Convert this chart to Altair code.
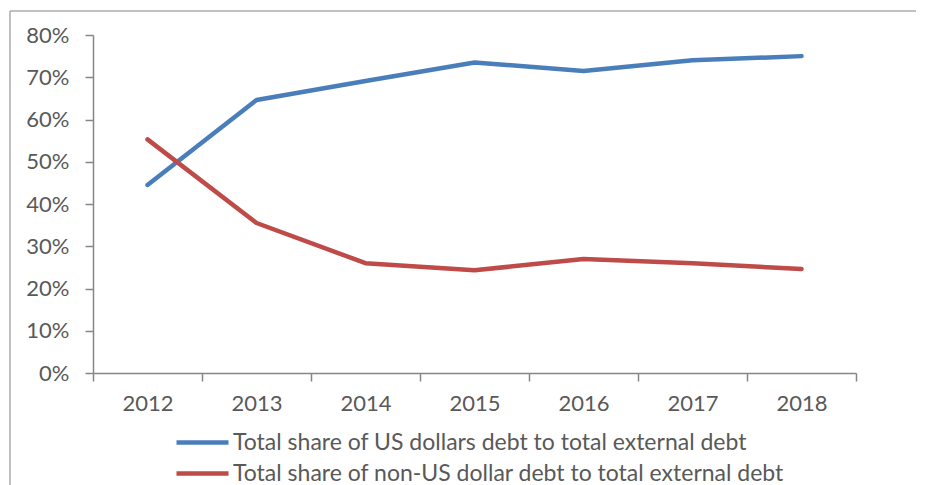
import altair as alt
import pandas as pd

years = ["2012", "2013", "2014", "2015", "2016", "2017", "2018"]
us_dollar_share = [44.5, 64.6, 69.1, 73.5, 71.5, 74.0, 75.0]
non_us_dollar_share = [55.3, 35.5, 26.0, 24.3, 27.0, 26.0, 24.6]
series_names = [
    "Total share of US dollars debt to total external debt",
    "Total share of non-US dollar debt to total external debt",
]
series_colors = ["#4A7EBB", "#BE4B48"]

rows = []
for name, vals in zip(series_names, [us_dollar_share, non_us_dollar_share]):
    for y, v in zip(years, vals):
        rows.append({"year": y, "value": v / 100.0, "series": name})
df = pd.DataFrame(rows)

FONT = "Lato"
W, H = 763, 338

lines = alt.Chart(df).mark_line(strokeWidth=4.5, strokeCap="round", strokeJoin="round").encode(
    x=alt.X("year:N", bandPosition=0.5,
            scale=alt.Scale(type="band", domain=years, paddingInner=0, paddingOuter=0),
            axis=alt.Axis(title=None, labelAngle=0, tickBand="extent", grid=False,
                          domainColor="#868686", tickColor="#868686", tickSize=8,
                          domainWidth=1.5, tickWidth=1.5,
                          labelColor="#595959", labelFont=FONT, labelFontSize=22,
                          labelPadding=12)),
    y=alt.Y("value:Q",
            scale=alt.Scale(domain=[0, 0.8], nice=False),
            axis=alt.Axis(title=None, format=".0%", values=[i / 10 for i in range(9)],
                          grid=False, domainColor="#868686", tickColor="#868686",
                          tickSize=8, domainWidth=1.5, tickWidth=1.5,
                          labelColor="#595959", labelFont=FONT, labelFontSize=22,
                          labelPadding=16)),
    color=alt.Color("series:N",
                    scale=alt.Scale(domain=series_names, range=series_colors),
                    legend=alt.Legend(title=None, orient="none", legendX=97, legendY=395,
                                      symbolType="M-2.6,0L2.6,0", symbolSize=400,
                                      symbolStrokeWidth=4.5, labelFont=FONT,
                                      labelFontSize=23, labelColor="#595959",
                                      labelOffset=18, rowPadding=6, labelLimit=800)),
)

frame_df = pd.DataFrame({"a": [0]})
top_rule = alt.Chart(frame_df).mark_rule(color="#ABABAB", strokeWidth=1.5).encode(
    x=alt.value(-83), x2=alt.value(W + 60), y=alt.value(-24))
left_rule = alt.Chart(frame_df).mark_rule(color="#ABABAB", strokeWidth=1.5).encode(
    x=alt.value(-83), y=alt.value(-24), y2=alt.value(H + 112))

chart = alt.layer(lines, top_rule, left_rule).properties(
    width=W, height=H,
    background="white",
    autosize=alt.AutoSizeParams(type="none"),
    padding={"left": 85, "top": 27, "right": 60, "bottom": 112},
).configure_view(stroke=None)

chart.save("out.html", embed_options={"renderer": "svg", "actions": False})
